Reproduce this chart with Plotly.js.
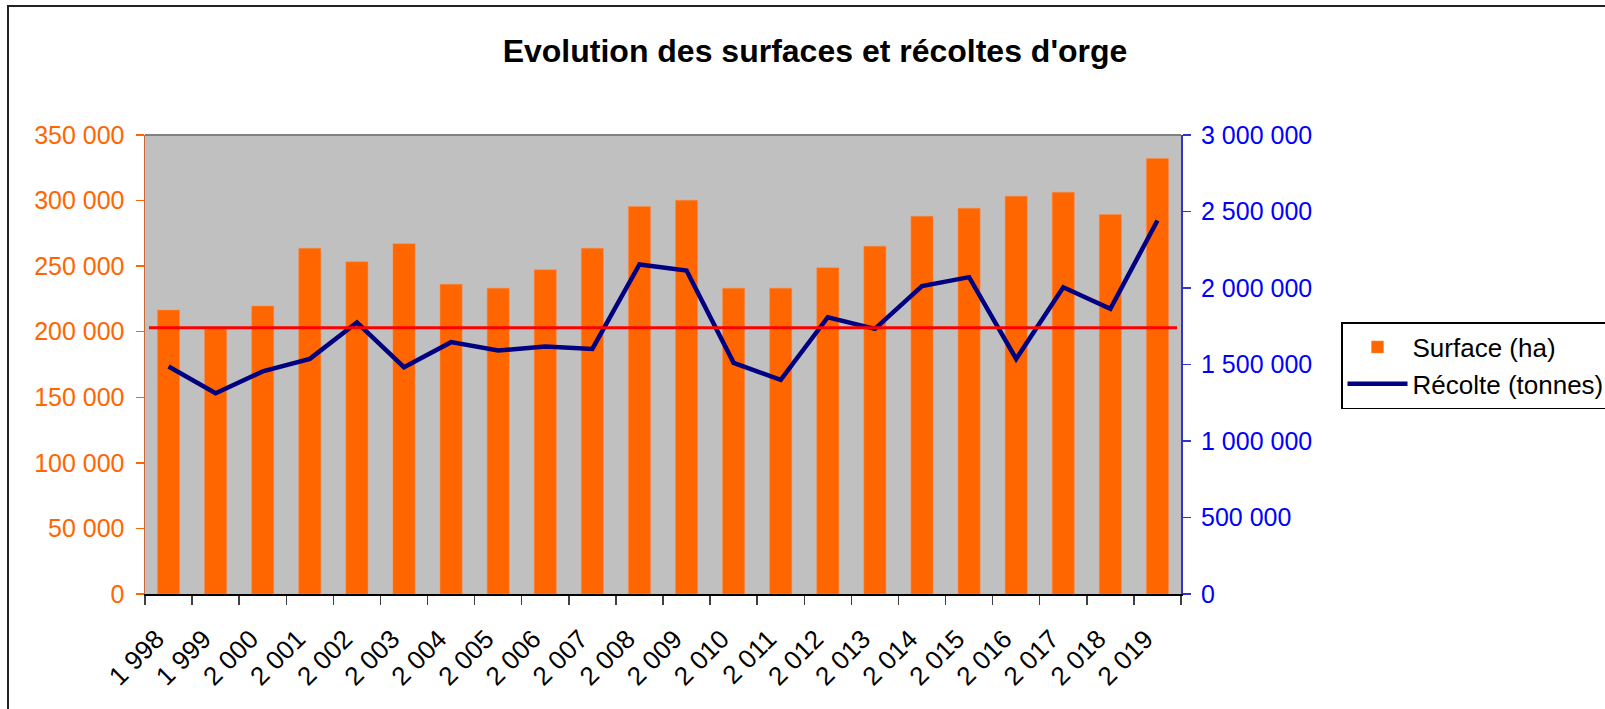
<!DOCTYPE html>
<html>
<head>
<meta charset="utf-8">
<script src="https://cdn.plot.ly/plotly-3.0.1.min.js"></script>
<style>
  html, body { margin: 0; padding: 0; background: #ffffff; }
  #chart { width: 1605px; height: 709px; }
</style>
</head>
<body>
<div id="chart"></div>
<script>
// Années (étiquettes de l'axe des abscisses)
const categories = ['1 998','1 999','2 000','2 001','2 002','2 003','2 004','2 005','2 006','2 007','2 008','2 009','2 010','2 011','2 012','2 013','2 014','2 015','2 016','2 017','2 018','2 019'];

// Surface (ha) — axe gauche
const surface = [216500, 202000, 219600, 263700, 253300, 267000, 236200, 233200, 247200, 263700, 295500, 300300, 233200, 233200, 248700, 265200, 288100, 294200, 303300, 306400, 289400, 332100];

// Récolte (tonnes) — axe droit
const recolte = [1487000, 1312000, 1455000, 1537000, 1775000, 1482000, 1646000, 1591000, 1618000, 1602000, 2154000, 2114000, 1511000, 1400000, 1809000, 1733000, 2012000, 2071000, 1537000, 2005000, 1864000, 2441000];

// Ligne de référence rouge (valeur sur l'axe gauche)
const seuil = 203000;

const FONT = 'Arial, "Liberation Sans", sans-serif';

const traces = [
  {
    type: 'bar',
    name: 'Surface (ha)',
    x: categories,
    y: surface,
    marker: { color: '#FF6600', line: { color: '#FF8C4A', width: 0.5 } },
    yaxis: 'y'
  },
  {
    type: 'scatter',
    mode: 'lines',
    name: 'Récolte (tonnes)',
    x: categories,
    y: recolte,
    line: { color: '#000080', width: 4.5 },
    yaxis: 'y2'
  }
];

const W = 1605, H = 709;
const L = 145, R = 424, T = 135, B = 115;
const pw = W - L - R, ph = H - T - B;
function px2paperX(px) { return (px - L) / pw; }
function px2paperY(py) { return (H - B - py) / ph; }

const layout = {
  width: W,
  height: H,
  margin: { l: L, r: R, t: T, b: B, pad: 0, autoexpand: false },
  paper_bgcolor: '#ffffff',
  plot_bgcolor: '#C0C0C0',
  separators: ', ',
  font: { family: FONT, size: 25, color: '#000000' },
  title: {
    text: "<b>Evolution des surfaces et récoltes d'orge</b>",
    font: { family: FONT, size: 32, color: '#000000' },
    x: 815 / W,
    xref: 'container',
    xanchor: 'center',
    y: 1 - 51 / H,
    yref: 'container',
    yanchor: 'middle'
  },
  bargap: 0.53,
  showlegend: true,
  legend: {
    x: px2paperX(1341),
    y: px2paperY(322),
    xanchor: 'left',
    yanchor: 'top',
    bgcolor: '#ffffff',
    bordercolor: '#000000',
    borderwidth: 1.5,
    itemwidth: 60,
    font: { family: FONT, size: 26, color: '#000000' },
    traceorder: 'normal'
  },
  xaxis: {
    type: 'category',
    tickson: 'boundaries',
    ticks: 'outside',
    ticklen: 9,
    tickwidth: 1.5,
    tickcolor: '#404040',
    showline: true,
    linecolor: '#000000',
    linewidth: 1.5,
    showgrid: false,
    zeroline: false,
    tickangle: -45,
    tickfont: { family: FONT, size: 26, color: '#000000' },
    ticklabelstandoff: 18,
    ticklabelshift: -12,
    fixedrange: true
  },
  yaxis: {
    range: [0, 350000],
    dtick: 50000,
    tick0: 0,
    tickformat: ',d',
    ticks: 'outside',
    ticklen: 8,
    tickwidth: 1.5,
    tickcolor: '#FF6600',
    showline: true,
    linecolor: '#CC6633',
    linewidth: 1.5,
    showgrid: false,
    zeroline: false,
    tickfont: { family: FONT, size: 25, color: '#FF6600' },
    ticklabelstandoff: 6,
    fixedrange: true
  },
  yaxis2: {
    range: [0, 3000000],
    dtick: 500000,
    tick0: 0,
    tickformat: ',d',
    overlaying: 'y',
    side: 'right',
    ticks: 'outside',
    ticklen: 8,
    tickwidth: 1.5,
    tickcolor: '#3333CC',
    showline: true,
    linecolor: '#3333CC',
    linewidth: 2,
    showgrid: false,
    zeroline: false,
    tickfont: { family: FONT, size: 25, color: '#0000FF' },
    ticklabelstandoff: 5,
    fixedrange: true
  },
  shapes: [
    // ligne rouge de référence
    {
      type: 'line', xref: 'paper', yref: 'y',
      x0: px2paperX(149), x1: px2paperX(1177),
      y0: seuil, y1: seuil,
      line: { color: '#FF0000', width: 3 },
      layer: 'above'
    },
    // bord supérieur gris de la zone de tracé
    {
      type: 'line', xref: 'paper', yref: 'paper',
      x0: 0, x1: 1, y0: 1, y1: 1,
      line: { color: '#808080', width: 2 },
      layer: 'above'
    },
    // cadre du graphique
    {
      type: 'rect', xref: 'paper', yref: 'paper',
      x0: px2paperX(8), x1: px2paperX(1700),
      y0: px2paperY(800), y1: px2paperY(6),
      line: { color: '#222222', width: 2 },
      fillcolor: 'rgba(0,0,0,0)',
      layer: 'below'
    }
  ]
};

Plotly.newPlot('chart', traces, layout, { staticPlot: true, displayModeBar: false });
</script>
</body>
</html>
